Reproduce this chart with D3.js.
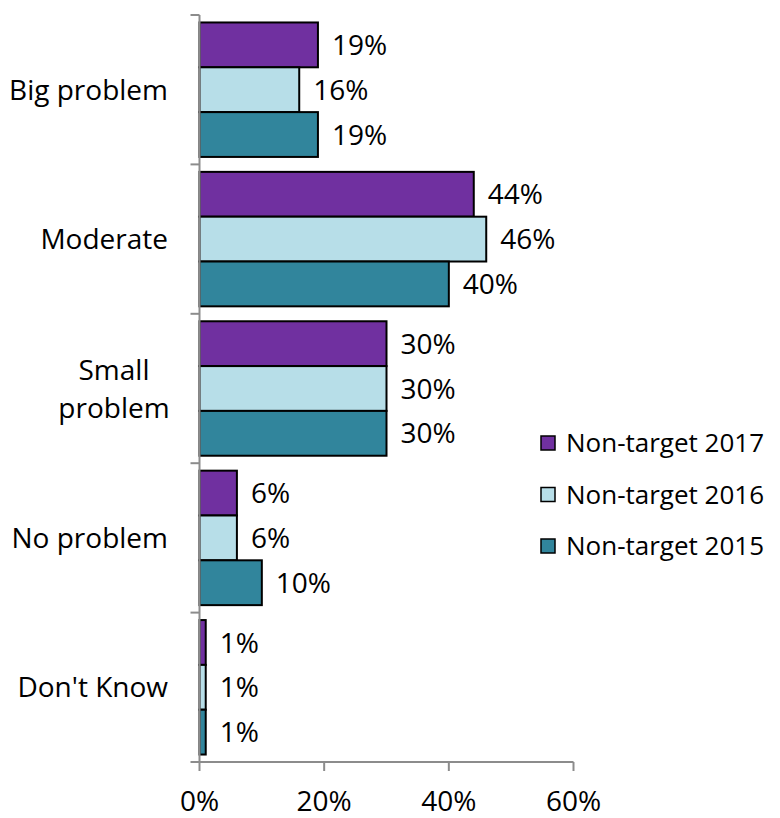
<!DOCTYPE html>
<html><head><meta charset="utf-8">
<script src="https://cdn.jsdelivr.net/npm/d3@7/dist/d3.min.js"></script>
<style>body{margin:0;background:#fff;}svg{display:block;font-family:"Open Sans",sans-serif;}</style>
</head><body>
<svg id="chart" width="780" height="818"></svg>
<script>
const categories = ["Big problem", "Moderate", "Small problem", "No problem", "Don't Know"];
const seriesNames = ["Non-target 2017", "Non-target 2016", "Non-target 2015"];
const v2017 = [19, 44, 30, 6, 1];
const v2016 = [16, 46, 30, 6, 1];
const v2015 = [19, 40, 30, 10, 1];
const xTicks = [0, 20, 40, 60];
const colors = ["#7030A0", "#B7DEE8", "#31859C"];

(function () {
const series = [v2017, v2016, v2015];
const svg = d3.select("#chart");
const pLeft = 199.5, pRight = 573.5, pTop = 15, pBottom = 762;

const x = d3.scaleLinear().domain([0, 60]).range([pLeft, pRight]);
const y = d3.scaleBand().domain(categories).range([pTop, pBottom]).paddingInner(0.1).paddingOuter(0.05);
const yOuter = d3.scaleBand().domain(categories).range([pTop, pBottom]);
const ys = d3.scaleBand().domain(seriesNames).range([0, y.bandwidth()]);

categories.forEach((c, ci) => {
  const g = svg.append("g");
  seriesNames.forEach((s, si) => {
    const val = series[si][ci];
    const yy = y(c) + ys(s);
    g.append("rect")
      .attr("x", x(0)).attr("y", yy)
      .attr("width", x(val) - x(0)).attr("height", ys.bandwidth())
      .attr("fill", colors[si]).attr("stroke", "#000").attr("stroke-width", 2);
    g.append("text")
      .attr("x", x(val) + 14).attr("y", yy + ys.bandwidth() / 2)
      .attr("dy", "0.36em").attr("font-size", 28).attr("fill", "#000")
      .text(val + "%");
  });
});

const axisColor = "#8c8c8c";
svg.append("line").attr("x1", pLeft).attr("x2", pLeft).attr("y1", pTop).attr("y2", pBottom)
  .attr("stroke", axisColor).attr("stroke-width", 2);
const bounds = categories.map(c => yOuter(c)).concat([pBottom]);
bounds.forEach(b => {
  svg.append("line").attr("x1", pLeft - 9).attr("x2", pLeft).attr("y1", b).attr("y2", b)
    .attr("stroke", axisColor).attr("stroke-width", 2);
});
svg.append("line").attr("x1", pLeft).attr("x2", pRight).attr("y1", pBottom).attr("y2", pBottom)
  .attr("stroke", axisColor).attr("stroke-width", 2);
xTicks.forEach(t => {
  svg.append("line").attr("x1", x(t)).attr("x2", x(t)).attr("y1", pBottom).attr("y2", pBottom + 9)
    .attr("stroke", axisColor).attr("stroke-width", 2);
  svg.append("text").attr("x", x(t)).attr("y", 811).attr("text-anchor", "middle")
    .attr("font-size", 28).attr("fill", "#000").text(t + "%");
});

categories.forEach(c => {
  const cy = yOuter(c) + yOuter.bandwidth() / 2;
  if (c === "Small problem") {
    const lines = ["Small", "problem"];
    const t = svg.append("text").attr("font-size", 28).attr("fill", "#000").attr("text-anchor", "middle");
    lines.forEach((l, i) => {
      t.append("tspan").attr("x", 114).attr("y", cy + (i - 0.5) * 38).attr("dy", "0.36em").text(l);
    });
  } else {
    svg.append("text").attr("x", 168).attr("y", cy).attr("dy", "0.36em")
      .attr("text-anchor", "end").attr("font-size", 28).attr("fill", "#000").text(c);
  }
});

seriesNames.forEach((s, i) => {
  const ly = 443 + i * 51.5;
  svg.append("rect").attr("x", 541).attr("y", ly - 7).attr("width", 14).attr("height", 14)
    .attr("fill", colors[i]).attr("stroke", "#000").attr("stroke-width", 1.5);
  svg.append("text").attr("x", 566).attr("y", ly).attr("dy", "0.36em")
    .attr("font-size", 26).attr("fill", "#000").text(s);
});
})();
</script>
</body></html>
